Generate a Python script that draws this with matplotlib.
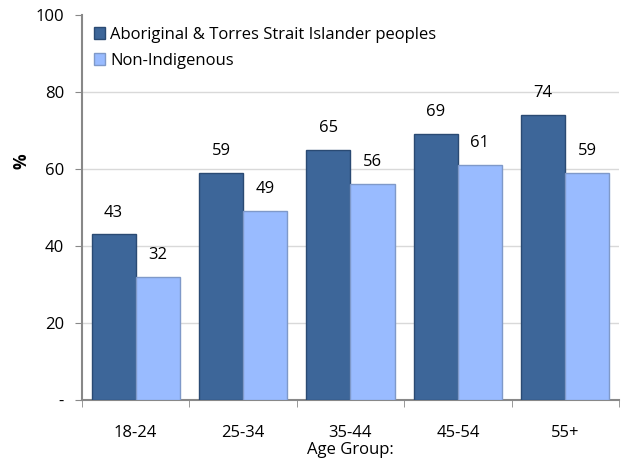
import matplotlib.pyplot as plt
import numpy as np

groups = ["18-24", "25-34", "35-44", "45-54", "55+"]
indigenous = [43, 59, 65, 69, 74]
non_indigenous = [32, 49, 56, 61, 59]
series_names = ["Aboriginal & Torres Strait Islander peoples", "Non-Indigenous"]

plt.rcParams["font.family"] = ["Open Sans", "DejaVu Sans"]
fs = 12

fig = plt.figure(figsize=(6.23, 4.68), dpi=100)
ax = fig.add_axes([0.1316, 0.1453, 0.862, 0.8227])

x = np.arange(len(groups))
w = 0.41
dark = "#3d6699"
light = "#99bbff"

b1 = ax.bar(x - w / 2, indigenous, w, color=dark, edgecolor="#2a4a73",
            linewidth=1.0, label=series_names[0], zorder=3)
b2 = ax.bar(x + w / 2, non_indigenous, w, color=light, edgecolor="#7f99c9",
            linewidth=1.0, label=series_names[1], zorder=3)

for bars, vals in ((b1, indigenous), (b2, non_indigenous)):
    for rect, v in zip(bars, vals):
        ax.annotate(str(v), (rect.get_x() + rect.get_width() / 2, v),
                    xytext=(0, 10), textcoords="offset points",
                    ha="center", va="bottom", fontsize=fs)

ax.set_xlim(-0.5, len(groups) - 0.5)
ax.set_ylim(0, 100)
ax.set_yticks([0, 20, 40, 60, 80, 100])
ax.set_yticklabels(["-", "20", "40", "60", "80", "100"], fontsize=fs)
ax.set_xticks(x)
ax.set_xticklabels(groups, fontsize=fs)
ax.set_xticks(np.arange(len(groups) + 1) - 0.5, minor=True)
ax.tick_params(axis="x", which="major", length=0, pad=18)
ax.tick_params(axis="x", which="minor", length=5, color="#888888", direction="out")
ax.tick_params(axis="y", length=5, color="#888888", pad=8)

for yv in [20, 40, 60, 80]:
    ax.axhline(yv, color="#d9d9d9", linewidth=1, zorder=0)

for s in ["top", "right"]:
    ax.spines[s].set_visible(False)
ax.spines["left"].set_color("#888888")
ax.spines["bottom"].set_color("#888888")
ax.spines["left"].set_linewidth(1.5)
ax.spines["bottom"].set_linewidth(1.5)

ax.set_xlabel("Age Group:", fontsize=fs, labelpad=1)
ax.set_ylabel("%", fontsize=12.5, fontweight="bold")
ax.yaxis.set_label_coords(-0.095, 0.62)

ax.legend(loc="upper left", frameon=False, fontsize=fs, handlelength=0.7,
          handleheight=0.7, handletextpad=0.3, labelspacing=0.6,
          borderaxespad=0.3, bbox_to_anchor=(0.0, 1.0))

fig.savefig("out.png", dpi=100)
